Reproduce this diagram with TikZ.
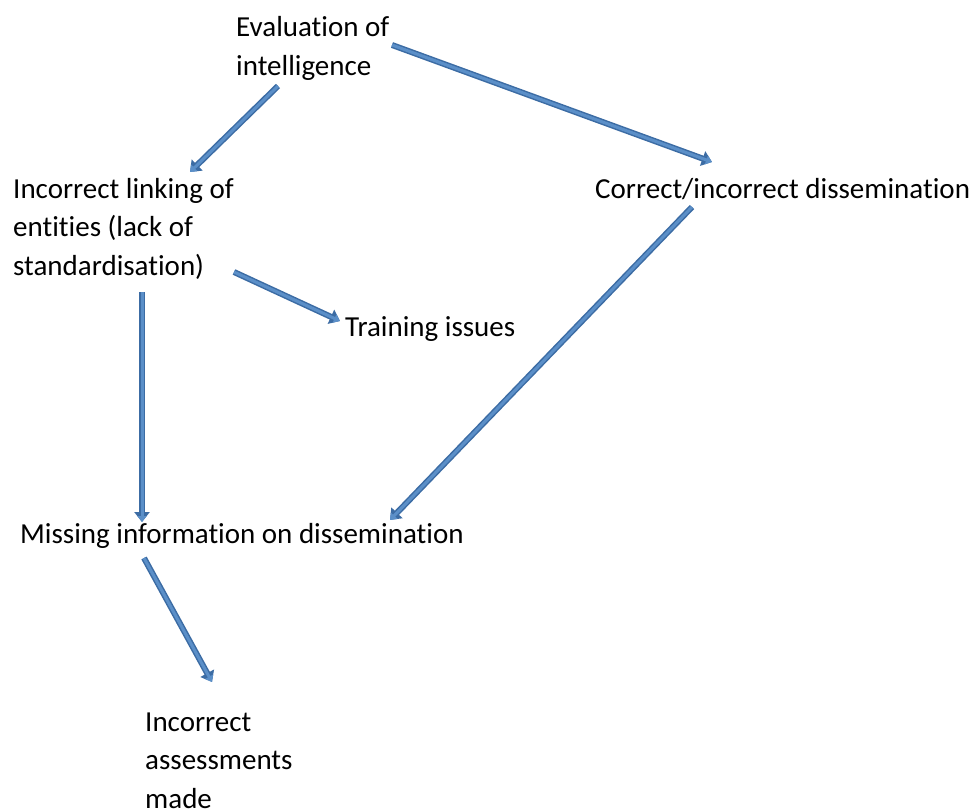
\documentclass[tikz,border=0pt]{standalone}
\usepackage{fontspec}
\setmainfont[Ligatures=NoCommon]{Carlito}
\usetikzlibrary{arrows.meta}
\definecolor{arrowedge}{HTML}{3C6CA4}
\definecolor{arrowfill}{HTML}{5B8FC8}
\newcommand{\lblfont}{\fontsize{29}{38.5}\selectfont}
\tikzset{
  lbl/.style={inner sep=0pt, font=\lblfont},
  flow/.style={line width=3pt, draw=arrowfill,
    -{Triangle[width=9pt,length=6pt]},
    preaction={draw=arrowedge, line width=6pt, -{Triangle[width=15pt,length=10pt]}}}
}
\newcommand{\lines}[1]{\lblfont\begin{tabular}[t]{@{}l@{}}#1\end{tabular}}
\begin{document}
\begin{tikzpicture}[x=1pt,y=-1pt]
\useasboundingbox (0,0) rectangle (976,808);
\renewcommand{\arraystretch}{1}

\node[lbl, anchor=base west] (eval) at (236,37) {\lines{Evaluation of\\intelligence}};
\node[lbl, anchor=base west] (link) at (13,198) {\lines{Incorrect linking of\\entities (lack of\\standardisation)}};
\node[lbl, anchor=base west] (diss) at (595,198) {Correct/incorrect dissemination};
\node[lbl, anchor=base west] (train) at (345,336) {Training issues};
\node[lbl, anchor=base west] (miss) at (20,543) {Missing information on dissemination};
\node[lbl, anchor=base west] (assess) at (145,731) {\lines{Incorrect\\assessments\\made}};

% connectors
\coordinate (e1) at (278,86);   \coordinate (l1) at (190,172);
\coordinate (e2) at (392,45);   \coordinate (d1) at (712,162);
\coordinate (l2) at (234,272);  \coordinate (t1) at (340,321);
\coordinate (l3) at (142,292);  \coordinate (m1) at (142,522);
\coordinate (d2) at (692,207);  \coordinate (m2) at (390,520);
\coordinate (m3) at (144,558);  \coordinate (a1) at (212,682);

\draw[flow] (e1) -- (l1);
\draw[flow] (e2) -- (d1);
\draw[flow] (l2) -- (t1);
\draw[flow] (l3) -- (m1);
\draw[flow] (d2) -- (m2);
\draw[flow] (m3) -- (a1);
\end{tikzpicture}
\end{document}
